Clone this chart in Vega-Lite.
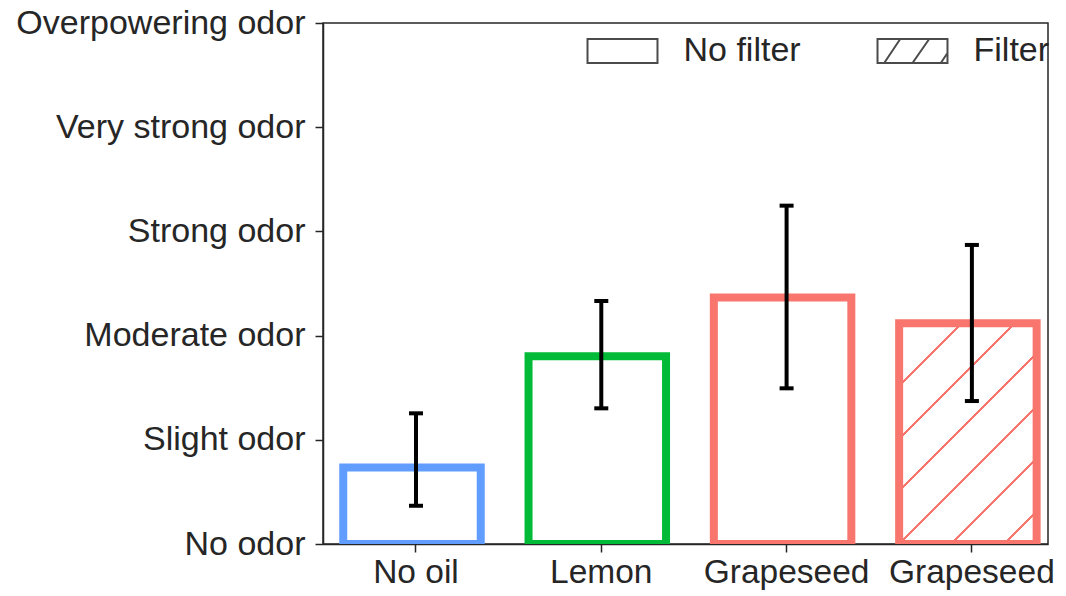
{
  "$schema": "https://vega.github.io/schema/vega-lite/v6.json",
  "width": 725,
  "height": 521,
  "autosize": {"type": "none"},
  "padding": {"left": 323, "top": 23, "right": 18, "bottom": 52},
  "background": "white",
  "config": {
    "view": {"stroke": "#262626", "strokeWidth": 1.5},
    "font": "Liberation Sans",
    "axis": {
      "labelFont": "Liberation Sans",
      "labelFontSize": 33.5,
      "labelColor": "#262626",
      "labelLimit": 0,
      "domainColor": "#262626",
      "domainWidth": 1.5,
      "tickColor": "#262626",
      "tickWidth": 1.5,
      "tickSize": 8,
      "grid": false,
      "title": null,
      "zindex": 1
    }
  },
  "data": {
    "values": [
      {"condition": "No oil", "oil": "No oil", "filter": "No filter", "odor": 0.734, "lo": 0.367, "hi": 1.254},
      {"condition": "Lemon", "oil": "Lemon", "filter": "No filter", "odor": 1.802, "lo": 1.302, "hi": 2.332},
      {"condition": "Grapeseed", "oil": "Grapeseed", "filter": "No filter", "odor": 2.366, "lo": 1.494, "hi": 3.247},
      {"condition": "Grapeseed + filter", "oil": "Grapeseed", "filter": "Filter", "odor": 2.118, "lo": 1.372, "hi": 2.87}
    ]
  },
  "encoding": {
    "x": {
      "field": "condition",
      "type": "nominal",
      "scale": {
        "domain": ["No oil", "Lemon", "Grapeseed", "Grapeseed + filter"],
        "paddingInner": 0.258,
        "paddingOuter": 0.0853,
        "align": 0.767
      },
      "axis": {
        "labelExpr": "split(datum.label, ' + ')[0]",
        "labelAngle": 0,
        "labelPadding": 4,
        "labelOverlap": false
      }
    }
  },
  "layer": [
    {
      "transform": [{"filter": "datum.filter === 'No filter'"}],
      "mark": {"type": "bar", "fill": "white", "strokeWidth": 8, "xOffset": -4, "clip": true, "opacity": 1},
      "encoding": {
        "y": {
          "field": "odor",
          "type": "quantitative",
          "scale": {"domain": [0, 5], "nice": false, "zero": true},
          "axis": {
            "values": [0, 1, 2, 3, 4, 5],
            "labelExpr": "['No odor', 'Slight odor', 'Moderate odor', 'Strong odor', 'Very strong odor', 'Overpowering odor'][datum.value]",
            "labelFontSize": 34,
            "labelPadding": 10,
            "labelOverlap": false
          }
        },
        "stroke": {
          "field": "oil",
          "type": "nominal",
          "scale": {"domain": ["No oil", "Lemon", "Grapeseed"], "range": ["#619CFF", "#00BA38", "#F8766D"]},
          "legend": null
        }
      }
    },
    {
      "transform": [{"filter": "datum.filter === 'Filter'"}],
      "mark": {
        "type": "bar",
        "strokeWidth": 8,
        "xOffset": -4,
        "clip": true,
        "opacity": 1,
        "fill": {
          "gradient": "linear",
          "x1": 0, "y1": 0, "x2": 0.7285, "y2": 1.1692,
          "stops": [
            {"offset": 0, "color": "white"},
            {"offset": 0.1706, "color": "white"},
            {"offset": 0.1706, "color": "#F8766D"},
            {"offset": 0.179, "color": "#F8766D"},
            {"offset": 0.179, "color": "white"},
            {"offset": 0.3171, "color": "white"},
            {"offset": 0.3171, "color": "#F8766D"},
            {"offset": 0.3255, "color": "#F8766D"},
            {"offset": 0.3255, "color": "white"},
            {"offset": 0.4637, "color": "white"},
            {"offset": 0.4637, "color": "#F8766D"},
            {"offset": 0.4721, "color": "#F8766D"},
            {"offset": 0.4721, "color": "white"},
            {"offset": 0.6103, "color": "white"},
            {"offset": 0.6103, "color": "#F8766D"},
            {"offset": 0.6187, "color": "#F8766D"},
            {"offset": 0.6187, "color": "white"},
            {"offset": 0.7568, "color": "white"},
            {"offset": 0.7568, "color": "#F8766D"},
            {"offset": 0.7652, "color": "#F8766D"},
            {"offset": 0.7652, "color": "white"},
            {"offset": 0.9034, "color": "white"},
            {"offset": 0.9034, "color": "#F8766D"},
            {"offset": 0.9118, "color": "#F8766D"},
            {"offset": 0.9118, "color": "white"},
            {"offset": 1, "color": "white"}
          ]
        }
      },
      "encoding": {
        "y": {"field": "odor", "type": "quantitative"},
        "stroke": {"field": "oil", "type": "nominal", "legend": null}
      }
    },
    {
      "mark": {"type": "rule", "color": "black", "strokeWidth": 4, "opacity": 1},
      "encoding": {
        "y": {"field": "lo", "type": "quantitative"},
        "y2": {"field": "hi"}
      }
    },
    {
      "mark": {"type": "tick", "color": "black", "size": 14, "thickness": 4, "opacity": 1},
      "encoding": {"y": {"field": "lo", "type": "quantitative"}}
    },
    {
      "mark": {"type": "tick", "color": "black", "size": 14, "thickness": 4, "opacity": 1},
      "encoding": {"y": {"field": "hi", "type": "quantitative"}}
    },
    {
      "mark": {"type": "point", "size": 0, "filled": false, "color": "black", "strokeWidth": 2},
      "encoding": {
        "y": {"field": "odor", "type": "quantitative"},
        "shape": {
          "field": "filter",
          "type": "nominal",
          "scale": {
            "domain": ["No filter", "Filter"],
            "range": [
              "M-0.972,-0.333H0.972V0.333H-0.972Z",
              "M-0.972,-0.333H0.972V0.333H-0.972Z M-0.786,0.333L-0.341,-0.333 M0,0.333L0.464,-0.333 M0.786,0.333L0.972,0.056"
            ]
          },
          "legend": {
            "title": null,
            "orient": "none",
            "legendX": 262.5,
            "legendY": -9,
            "direction": "horizontal",
            "symbolSize": 5184,
            "symbolStrokeWidth": 2,
            "labelFont": "Liberation Sans",
            "labelFontSize": 34,
            "labelColor": "#262626",
            "labelOffset": 24,
            "labelLimit": 0,
            "columnPadding": 72,
            "padding": 0,
            "encode": {
              "symbols": {
                "update": {
                  "size": {"value": 5184},
                  "stroke": {"value": "black"},
                  "fill": {"value": "white"},
                  "strokeWidth": {"value": 2},
                  "opacity": {"value": 1},
                  "fillOpacity": {"value": 1},
                  "strokeOpacity": {"value": 1}
                }
              }
            }
          }
        }
      }
    }
  ]
}
